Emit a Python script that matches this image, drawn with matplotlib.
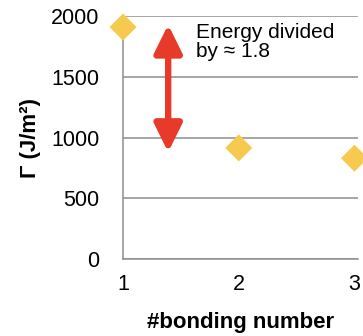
import matplotlib
matplotlib.use('Agg')
import matplotlib.pyplot as plt

plt.rcParams['font.family'] = ['Liberation Sans', 'DejaVu Sans']

bonding = [1, 2, 3]
gamma = [1910, 915, 830]
arrow_x = 1.39
arrow_top = 1930
arrow_bottom = 880
yticks = [0, 500, 1000, 1500, 2000]

GOLD = '#f6c94f'
RED = '#e73a2a'
GREY = '#8e8e8e'

fig = plt.figure(figsize=(3.63, 3.36), dpi=100)
ax = fig.add_axes([0.339, 0.229, 0.647, 0.723])

ax.set_xlim(1, 3.03)
ax.set_ylim(0, 2000)
ax.set_yticks(yticks)
ax.set_xticks(bonding)
ax.grid(axis='y', color=GREY, lw=1.1)
ax.set_axisbelow(True)
for side in ['top', 'right']:
    ax.spines[side].set_visible(False)
for side in ['left', 'bottom']:
    ax.spines[side].set_color(GREY)
    ax.spines[side].set_linewidth(1.1)
ax.tick_params(length=0, labelsize=15.5, colors='black')
ax.tick_params(axis='x', pad=11)
ax.tick_params(axis='y', pad=17)

ax.scatter(bonding, gamma, marker='D', s=190, color=GOLD, edgecolor='none',
           zorder=3, clip_on=False)

ax.annotate('', xy=(arrow_x, arrow_top), xytext=(arrow_x, arrow_bottom),
            arrowprops=dict(arrowstyle='<|-|>,head_length=0.85,head_width=0.42',
                            mutation_scale=20, lw=4.6, color=RED,
                            shrinkA=0, shrinkB=0))

ax.text(1.63, 1945, 'Energy divided\nby \u2248 1.8', fontsize=15, va='top', ha='left',
        linespacing=1.0)

ax.set_xlabel('#bonding number', fontsize=16, fontweight='bold', labelpad=12)
ax.set_ylabel('\u0393 (J/m\u00b2)', fontsize=16, fontweight='bold', labelpad=7)

fig.savefig('out.png', dpi=100)
